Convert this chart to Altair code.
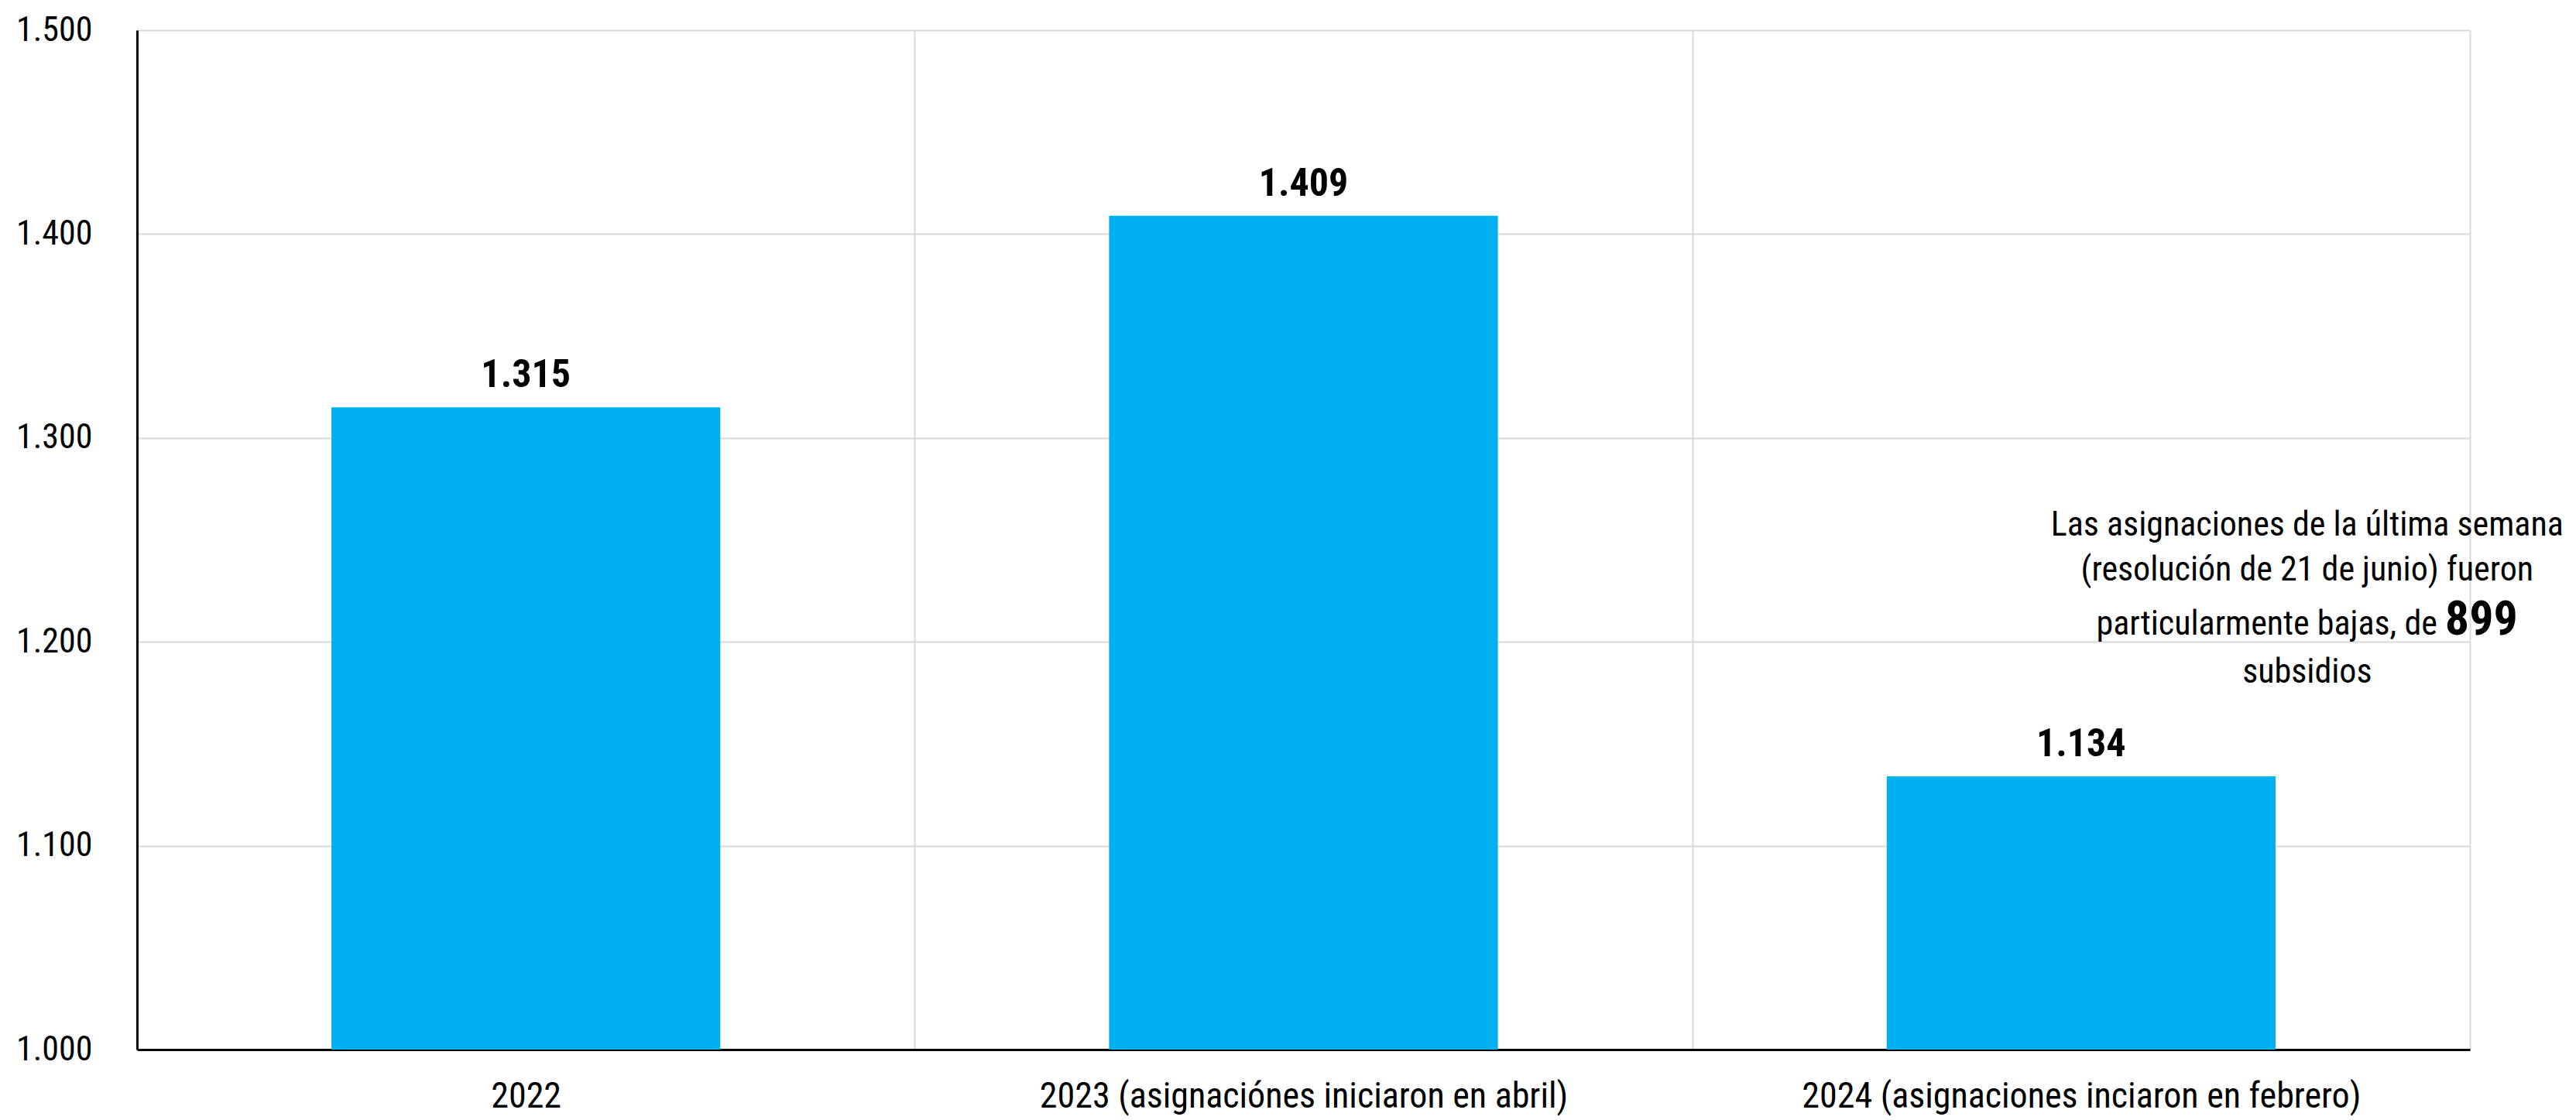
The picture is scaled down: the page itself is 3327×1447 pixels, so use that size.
import altair as alt
import pandas as pd

categories = ["2022", "2023 (asignaciónes iniciaron en abril)", "2024 (asignaciones inciaron en febrero)"]
values = [1315, 1409, 1134]
value_labels = ["1.315", "1.409", "1.134"]
y_ticks = [1000, 1100, 1200, 1300, 1400, 1500]

note_lines_top = ["Las asignaciones de la última semana", "(resolución de 21 de junio) fueron"]
note_line3 = "particularmente bajas, de"
note_bold = "899"
note_last = "subsidios"
note_anchor_value = 1252

FONT = "Roboto Condensed, Liberation Sans Narrow, Roboto, sans-serif"
BAR_COLOR = "#00B0F0"

df = pd.DataFrame({"cat": categories, "value": values, "label": value_labels})

x_enc = alt.X(
    "cat:N",
    sort=categories,
    title=None,
    scale=alt.Scale(paddingInner=0, paddingOuter=0),
    axis=alt.Axis(
        labelAngle=0,
        labelFont=FONT,
        labelFontSize=46,
        labelColor="#000000",
        labelPadding=38,
        ticks=False,
        tickBand="extent",
        grid=True,
        gridColor="#d9d9d9",
        gridWidth=2,
        domain=True,
        domainColor="#000000",
        domainWidth=3,
        labelLimit=1200,
    ),
)

y_scale = alt.Scale(domain=[1000, 1500], nice=False, zero=False)

bars = alt.Chart(df).mark_bar(color=BAR_COLOR, width=alt.RelativeBandSize(0.5)).encode(
    x=x_enc,
    y=alt.Y(
        "value:Q",
        scale=y_scale,
        title=None,
        axis=alt.Axis(
            values=y_ticks,
            labelExpr="replace(format(datum.value, ','), ',', '.')",
            labelFont=FONT,
            labelFontSize=44,
            labelColor="#000000",
            labelPadding=58,
            ticks=False,
            grid=True,
            gridColor="#d9d9d9",
            gridWidth=2,
            domain=True,
            domainColor="#000000",
            domainWidth=3,
        ),
    ),
    y2=alt.datum(1000),
)

labels = alt.Chart(df).mark_text(
    font=FONT, fontSize=50, fontWeight="bold", color="#000000",
    baseline="alphabetic", align="center", dy=-26,
).encode(
    x=alt.X("cat:N", sort=categories),
    y=alt.Y("value:Q", scale=y_scale),
    text="label:N",
)

note_df = pd.DataFrame({"cat": [categories[2]], "v": [note_anchor_value]})
note_base = alt.Chart(note_df).encode(
    x=alt.X("cat:N", sort=categories),
    y=alt.Y("v:Q", scale=y_scale),
)
note_top = note_base.mark_text(
    font=FONT, fontSize=44, color="#000000", align="center",
    baseline="alphabetic", dx=292, lineHeight=58,
).encode(text=alt.value(note_lines_top))
note_mid = note_base.mark_text(
    font=FONT, fontSize=44, color="#000000", align="right",
    baseline="alphabetic", dx=460, dy=128,
).encode(text=alt.value(note_line3))
note_899 = note_base.mark_text(
    font=FONT, fontSize=62, fontWeight="bold", color="#000000", align="left",
    baseline="alphabetic", dx=470, dy=128,
).encode(text=alt.value(note_bold))
note_end = note_base.mark_text(
    font=FONT, fontSize=44, color="#000000", align="center",
    baseline="alphabetic", dx=292, dy=190,
).encode(text=alt.value(note_last))

chart = alt.layer(bars, labels, note_top, note_mid, note_899, note_end).properties(
    width=3013,
    height=1317,
    autosize=alt.AutoSizeParams(type="none"),
    padding={"left": 177, "top": 39, "right": 137, "bottom": 91},
    background="#ffffff",
).configure_view(stroke=None)

chart.save("out.html", embed_options={"renderer": "svg", "actions": False})
